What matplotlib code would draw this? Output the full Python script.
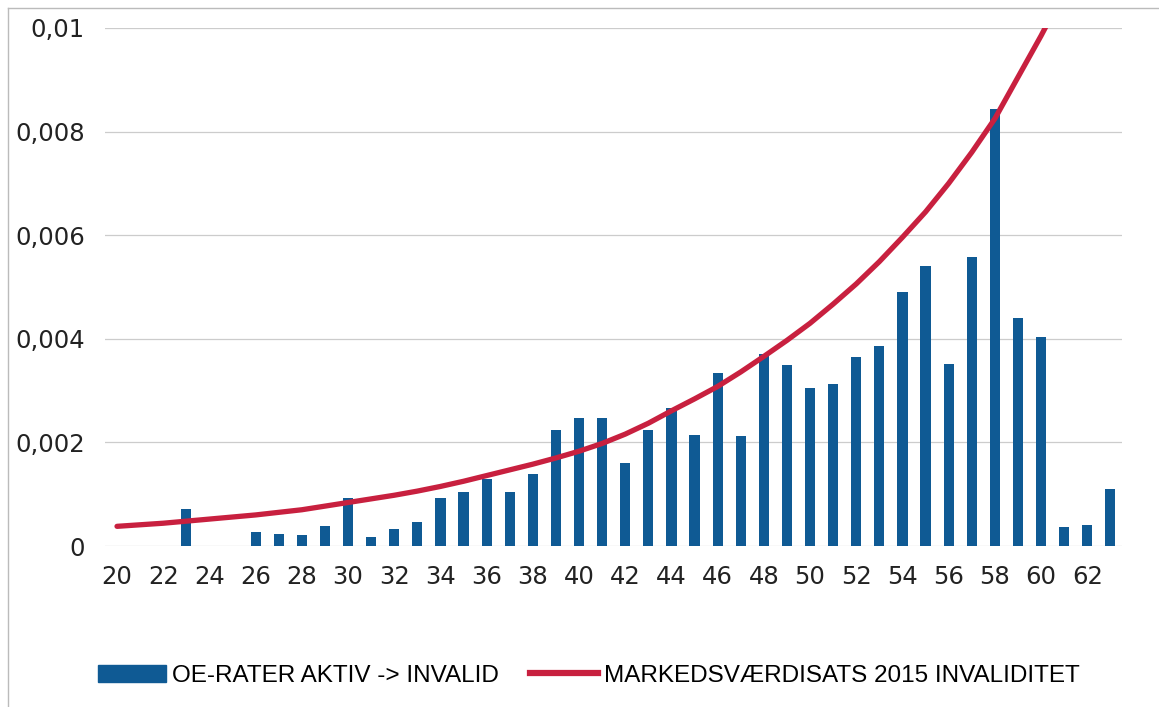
import matplotlib
matplotlib.use("Agg")
import matplotlib.pyplot as plt
from matplotlib.lines import Line2D

ages = list(range(20, 64))
bar_values = [0, 0, 0, 0.00072, 0, 0, 0.000265, 0.000232, 0.000213, 0.000394,
              0.00093, 0.000174, 0.00033, 0.000464, 0.00092, 0.00105, 0.0013, 0.00104,
              0.00139, 0.00224, 0.00248, 0.00247, 0.00161, 0.00223, 0.00266, 0.00215,
              0.00334, 0.00212, 0.0037, 0.00349, 0.00306, 0.00313, 0.00364, 0.00386,
              0.0049, 0.00541, 0.00351, 0.00557, 0.00844, 0.00441, 0.00404, 0.00036,
              0.00041, 0.0011]

line_ages = list(range(20, 62))
line_values = [0.00038, 0.00041, 0.00044, 0.00048, 0.00052, 0.00056, 0.0006, 0.00065,
               0.0007, 0.00077, 0.00084, 0.00091, 0.00098, 0.00106, 0.00115, 0.00125,
               0.00136, 0.00147, 0.00158, 0.0017, 0.00183, 0.00198, 0.00216, 0.00237,
               0.00261, 0.00284, 0.00308, 0.00336, 0.00366, 0.00397, 0.0043, 0.00467,
               0.00506, 0.00549, 0.00596, 0.00645, 0.007, 0.0076, 0.00825, 0.00905,
               0.00985, 0.0107]

xticks = list(range(20, 63, 2))
yticks = [0, 0.002, 0.004, 0.006, 0.008, 0.01]
ytick_labels = ["0", "0,002", "0,004", "0,006", "0,008", "0,01"]

bar_label = "OE-RATER AKTIV -> INVALID"
line_label = "MARKEDSVÆRDISATS 2015 INVALIDITET"

BLUE = "#0f5a94"
RED = "#c8203f"

fig = plt.figure(figsize=(11.59, 7.07), dpi=100)
ax = fig.add_axes([0.091, 0.2277, 0.877, 0.7327])

ax.bar(ages, bar_values, width=0.44, color=BLUE, zorder=2)
ax.plot(line_ages, line_values, color=RED, lw=3.8, solid_capstyle="round", zorder=3)

ax.set_xlim(19.5, 63.5)
ax.set_ylim(0, 0.01)
ax.set_xticks(xticks)
ax.set_xticklabels([str(t) for t in xticks], fontsize=17.5, color="#222222")
ax.set_yticks(yticks)
ax.set_yticklabels(ytick_labels, fontsize=17.5, color="#222222")
ax.tick_params(axis="both", length=0)
ax.tick_params(axis="x", pad=14)
ax.tick_params(axis="y", pad=15)
ax.grid(axis="y", color="#cccccc", lw=0.9, zorder=0)
ax.set_axisbelow(True)
for s in ax.spines.values():
    s.set_visible(False)

handles = [
    plt.Rectangle((0, 0), 1, 1, color=BLUE),
    Line2D([0], [0], color=RED, lw=4.5),
]
leg = fig.legend(handles, [bar_label, line_label], loc="center",
                 bbox_to_anchor=(0.508, 0.044), ncol=2, frameon=False,
                 prop={"family": "Liberation Sans", "size": 17.5},
                 handlelength=2.8, handleheight=0.7, handletextpad=0.25,
                 columnspacing=1.3)

# scan border lines
fig.add_artist(Line2D([8 / 1159, 8 / 1159], [0, 1 - 8 / 707], color="#bbbbbb", lw=1.0,
                      transform=fig.transFigure))
fig.add_artist(Line2D([8 / 1159, 1], [1 - 8 / 707, 1 - 8 / 707], color="#bbbbbb", lw=1.0,
                      transform=fig.transFigure))

fig.savefig("out.png", dpi=100)
